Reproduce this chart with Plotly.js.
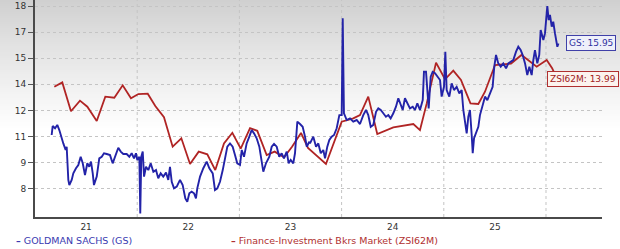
<!DOCTYPE html>
<html>
<head>
<meta charset="utf-8">
<script src="https://cdn.plot.ly/plotly-3.0.1.min.js"></script>
<style>
html,body{margin:0;padding:0;background:#fff;}
#chart{width:620px;height:249px;}
</style>
</head>
<body>
<div id="chart"></div>
<script>
// Goldman Sachs (GS) — decimal year / value
const gsYears = [2021.163,2021.173,2021.196,2021.218,2021.238,2021.254,2021.277,2021.300,2021.310,2021.326,2021.336,2021.359,2021.375,2021.401,2021.424,2021.447,2021.467,2021.489,2021.512,2021.531,2021.548,2021.565,2021.577,2021.604,2021.629,2021.653,2021.675,2021.702,2021.734,2021.760,2021.783,2021.815,2021.839,2021.864,2021.897,2021.923,2021.946,2021.969,2021.988,2022.001,2022.021,2022.030,2022.040,2022.054,2022.067,2022.086,2022.109,2022.132,2022.158,2022.184,2022.206,2022.230,2022.255,2022.282,2022.304,2022.321,2022.338,2022.360,2022.387,2022.419,2022.445,2022.471,2022.490,2022.510,2022.533,2022.556,2022.575,2022.588,2022.615,2022.647,2022.680,2022.706,2022.739,2022.761,2022.784,2022.810,2022.837,2022.859,2022.882,2022.908,2022.934,2022.957,2022.979,2023.006,2023.023,2023.045,2023.071,2023.097,2023.120,2023.143,2023.169,2023.195,2023.219,2023.234,2023.260,2023.293,2023.316,2023.339,2023.365,2023.390,2023.414,2023.436,2023.463,2023.482,2023.502,2023.527,2023.544,2023.567,2023.593,2023.619,2023.642,2023.659,2023.684,2023.691,2023.723,2023.750,2023.772,2023.796,2023.821,2023.838,2023.860,2023.880,2023.903,2023.926,2023.952,2023.978,2024.001,2024.011,2024.023,2024.050,2024.082,2024.114,2024.148,2024.180,2024.212,2024.239,2024.261,2024.285,2024.310,2024.337,2024.359,2024.383,2024.408,2024.434,2024.457,2024.480,2024.506,2024.532,2024.555,2024.571,2024.598,2024.620,2024.643,2024.669,2024.696,2024.718,2024.741,2024.767,2024.794,2024.806,2024.826,2024.839,2024.852,2024.872,2024.891,2024.914,2024.936,2024.963,2024.979,2025.002,2025.015,2025.028,2025.054,2025.077,2025.100,2025.126,2025.152,2025.175,2025.191,2025.207,2025.224,2025.240,2025.256,2025.273,2025.283,2025.296,2025.315,2025.338,2025.354,2025.381,2025.403,2025.426,2025.452,2025.478,2025.494,2025.511,2025.533,2025.557,2025.582,2025.609,2025.631,2025.655,2025.680,2025.707,2025.729,2025.752,2025.772,2025.795,2025.817,2025.837,2025.860,2025.876,2025.892,2025.915,2025.934,2025.948,2025.974,2025.990,2026.013,2026.026,2026.039,2026.056,2026.071,2026.088,2026.111,2026.122];
const gsValues = [10.94,11.43,11.31,11.49,11.21,10.85,10.48,10.12,10.30,8.48,8.20,8.48,8.84,9.12,9.30,9.75,9.39,8.75,9.39,9.20,9.48,8.84,8.20,8.66,9.66,9.75,9.94,9.90,9.84,9.39,9.75,10.24,10.03,9.90,9.90,9.75,9.94,9.66,9.94,9.57,9.75,6.65,9.75,10.03,8.66,9.20,9.02,9.39,8.93,9.02,8.57,8.84,8.66,8.88,8.48,9.20,8.38,8.02,8.11,8.48,8.20,7.47,7.29,7.75,7.84,7.75,7.47,8.02,8.66,9.12,9.48,9.12,8.84,7.93,8.02,8.38,9.02,9.57,10.30,10.48,10.30,9.84,9.39,9.30,10.12,9.75,10.48,10.85,11.21,11.03,10.76,10.30,9.57,8.93,9.39,9.75,10.30,10.45,10.30,9.75,9.94,9.66,10.03,9.39,9.57,9.39,9.94,11.67,11.54,11.39,10.85,10.30,10.57,10.48,10.85,10.30,10.48,9.94,10.12,9.66,10.30,10.67,10.85,10.94,11.31,12.03,12.03,17.33,12.13,11.76,11.85,11.67,11.76,11.54,12.03,12.31,12.03,11.39,11.49,12.21,12.40,12.31,12.13,11.94,12.03,11.85,12.13,12.49,12.95,12.67,12.31,12.95,12.67,12.40,12.49,12.31,12.67,12.31,12.85,14.40,14.40,13.58,12.40,14.13,14.40,14.32,14.13,13.95,13.04,13.58,15.50,13.40,13.04,13.77,13.40,13.58,13.22,13.40,12.31,11.76,11.03,11.94,12.31,10.94,9.94,10.76,11.03,11.39,12.03,12.67,13.04,12.85,13.22,13.58,14.68,15.32,14.86,14.68,14.86,14.59,14.86,14.95,15.04,15.50,15.77,15.59,15.32,14.86,14.22,14.68,14.22,15.04,15.59,14.86,15.32,16.69,16.14,16.50,18.00,17.23,17.51,16.87,17.14,16.50,15.77,15.95];

// Finance-Investment Bkrs Market (ZSI62M)
const zsiYears = [2021.189,2021.267,2021.352,2021.440,2021.512,2021.604,2021.688,2021.776,2021.858,2021.939,2022.011,2022.103,2022.177,2022.262,2022.347,2022.432,2022.517,2022.602,2022.686,2022.764,2022.849,2022.931,2023.013,2023.104,2023.175,2023.267,2023.345,2023.437,2023.515,2023.603,2023.671,2023.847,2024.001,2024.114,2024.180,2024.261,2024.349,2024.506,2024.702,2024.767,2024.833,2024.924,2025.012,2025.093,2025.168,2025.261,2025.338,2025.403,2025.501,2025.658,2025.760,2025.909,2026.007,2026.060,2026.110];
const zsiValues = [13.58,13.82,12.24,12.82,12.49,11.71,13.04,12.98,13.66,12.95,13.18,13.20,12.53,11.91,10.30,10.76,9.35,10.03,9.88,9.02,10.48,11.06,10.19,11.31,11.17,9.84,10.03,9.72,10.30,11.05,10.23,9.35,11.67,11.85,12.03,13.04,10.99,11.36,11.54,11.21,12.67,14.90,13.99,14.46,13.95,12.67,12.64,13.31,14.77,14.85,15.32,14.68,15.04,14.60,13.99];

const xTickVals = [2021.5,2022.5,2023.5,2024.5,2025.5];
const xTickText = ['21','22','23','24','25'];
const yearLines = [2022,2023,2024,2025,2026];
const yTickVals = [8, 8 + 10/7, 8 + 20/7, 8 + 30/7, 8 + 40/7, 8 + 50/7, 8 + 60/7, 18];
const yTickText = ['8','9','11','12','14','15','17','18'];

const gsName = 'GOLDMAN SACHS (GS)';
const zsiName = 'Finance-Investment Bkrs Market (ZSI62M)';
const gsColor = '#2323a8';
const zsiColor = '#b02424';
const FONT = 'DejaVu Sans, Verdana, sans-serif';

const traces = [
  {x: zsiYears, y: zsiValues, type: 'scatter', mode: 'lines', name: zsiName,
   line: {color: zsiColor, width: 1.8}, hoverinfo: 'skip'},
  {x: gsYears, y: gsValues, type: 'scatter', mode: 'lines', name: gsName,
   line: {color: gsColor, width: 1.9}, hoverinfo: 'skip'}
];

const gsLast = gsValues[gsValues.length - 1];
const zsiLast = zsiValues[zsiValues.length - 1];

const W = 620, H = 249, ML = 35, MR = 18, MT = 0, MB = 32;
const PW = W - ML - MR, PH = H - MT - MB;

// background: grey-to-white vertical gradient drawn as thin bands (decoration only)
const gradStops = [[0, 208], [40, 224], [90, 242], [130, 255]];
function greyAt(py) {
  for (let i = 0; i < gradStops.length - 1; i++) {
    const a = gradStops[i], b = gradStops[i + 1];
    if (py <= b[0]) return Math.round(a[1] + (b[1] - a[1]) * (py - a[0]) / (b[0] - a[0]));
  }
  return 255;
}
const bandShapes = [];
for (let py = 0; py < 130; py += 2) {
  const g = greyAt(py + 1);
  bandShapes.push({
    type: 'rect', xref: 'paper', yref: 'paper', layer: 'below',
    x0: -ML / PW, x1: 1 + MR / PW,
    y0: 1 - (py + 2.5 - MT) / PH, y1: 1 - (py - MT) / PH,
    fillcolor: 'rgb(' + g + ',' + g + ',' + g + ')', line: {width: 0}
  });
}

const gridShapes = yearLines.map(v => ({
  type: 'line', xref: 'x', yref: 'paper', x0: v, x1: v, y0: 0, y1: 1,
  line: {color: '#c4c4c4', width: 1, dash: 'dot'}, layer: 'below'
}));

const layout = {
  width: W, height: H,
  margin: {l: ML, r: MR, t: MT, b: MB},
  paper_bgcolor: '#ffffff',
  plot_bgcolor: 'rgba(0,0,0,0)',
  showlegend: false,
  font: {family: FONT, size: 9, color: '#333'},
  shapes: bandShapes.concat(gridShapes),
  xaxis: {
    range: [2021.0, 2026.548],
    tickmode: 'array', tickvals: xTickVals, ticktext: xTickText,
    showgrid: false, zeroline: false, ticks: '',
    showline: true, linecolor: '#4a4a4a', linewidth: 2,
    tickfont: {family: FONT, size: 9, color: '#333'}
  },
  yaxis: {
    range: [6.451, 18.33],
    tickmode: 'array', tickvals: yTickVals, ticktext: yTickText,
    showgrid: true, gridcolor: '#c4c4c4', griddash: 'dot', gridwidth: 1,
    zeroline: false, ticks: 'outside', ticklen: 5, tickcolor: '#555', tickwidth: 1,
    showline: true, linecolor: '#4a4a4a', linewidth: 2,
    tickfont: {family: FONT, size: 9, color: '#333'}
  },
  annotations: [
    {xref: 'paper', yref: 'y', x: 0.9365, y: gsLast, xanchor: 'left', yanchor: 'middle',
     text: 'GS: ' + gsLast.toFixed(2), showarrow: false,
     font: {family: FONT, size: 9, color: '#3030a0'},
     bgcolor: '#eef0fa', bordercolor: '#4040a8', borderwidth: 1, borderpad: 2},
    {xref: 'paper', yref: 'y', x: 0.903, y: zsiLast, xanchor: 'left', yanchor: 'middle',
     text: 'ZSI62M: ' + zsiLast.toFixed(2), showarrow: false,
     font: {family: FONT, size: 9, color: '#a02020'},
     bgcolor: '#fcf3ee', bordercolor: '#b03030', borderwidth: 1, borderpad: 2},
    {xref: 'paper', yref: 'paper', x: -0.037, y: -0.106, xanchor: 'left', yanchor: 'middle',
     text: '<b>–</b> ' + gsName, showarrow: false,
     font: {family: FONT, size: 9.5, color: '#3a3ab0'}},
    {xref: 'paper', yref: 'paper', x: 0.342, y: -0.106, xanchor: 'left', yanchor: 'middle',
     text: '<b>–</b> ' + zsiName, showarrow: false,
     font: {family: FONT, size: 9.5, color: '#b03030'}}
  ]
};

Plotly.newPlot('chart', traces, layout, {staticPlot: true, displayModeBar: false});
</script>
</body>
</html>
